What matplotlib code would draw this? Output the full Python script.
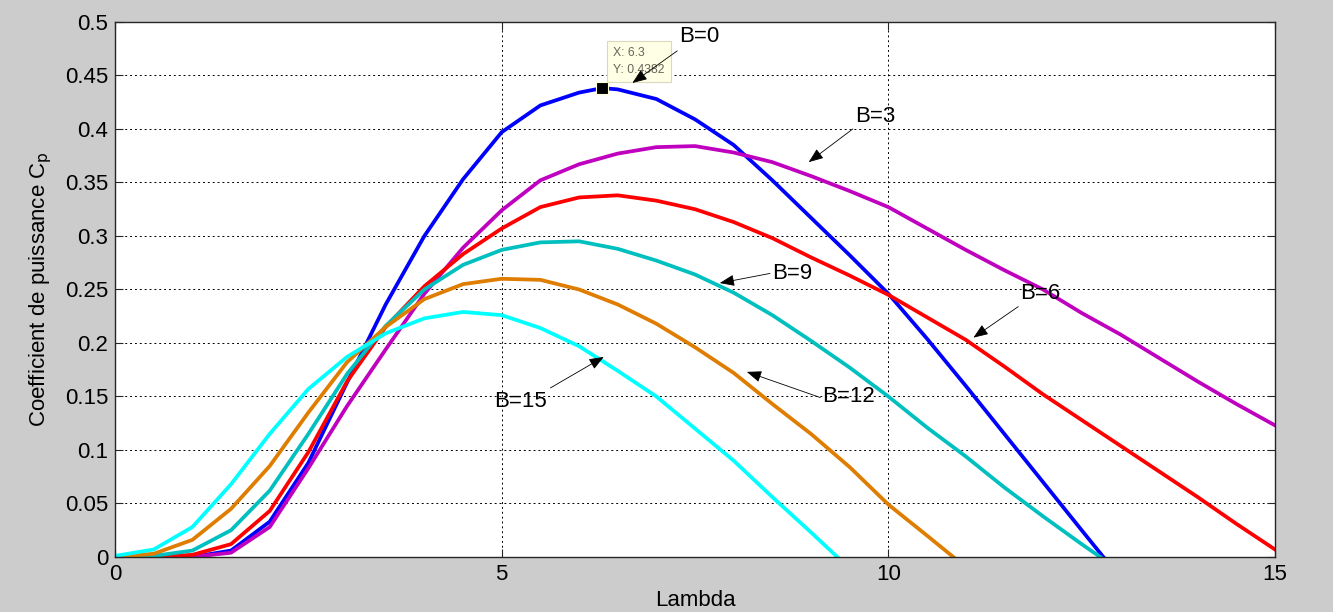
import matplotlib
matplotlib.use("Agg")
import matplotlib.pyplot as plt

plt.rcParams['font.family'] = ['Liberation Sans', 'DejaVu Sans']

# Power coefficient Cp versus tip-speed ratio (Lambda) for several pitch angles B
lam_b0 = [0, 0.5, 1.0, 1.5, 2.0, 2.5, 3.0, 3.5, 4.0, 4.5, 5.0, 5.5, 6.0, 6.3, 6.5, 7.0,
          7.5, 8.0, 8.5, 9.0, 9.5, 10.0, 10.5, 11.0, 11.5, 12.0, 12.5, 12.78]
cp_b0 = [0, 0, 0, 0.006, 0.033, 0.088, 0.163, 0.236, 0.300, 0.353, 0.397, 0.422, 0.434, 0.4382,
         0.437, 0.428, 0.409, 0.385, 0.352, 0.317, 0.282, 0.246, 0.204, 0.160, 0.115, 0.070,
         0.025, 0.0]

lam_b3 = [0, 0.5, 1.0, 1.5, 2.0, 2.5, 3.0, 3.5, 4.0, 4.5, 5.0, 5.5, 6.0, 6.5, 7.0, 7.5,
          8.0, 8.5, 9.0, 9.5, 10.0, 10.5, 11.0, 11.5, 12.0, 12.5, 13.0, 13.5, 14.0, 14.5, 15.0]
cp_b3 = [0, 0, 0, 0.004, 0.028, 0.083, 0.141, 0.194, 0.246, 0.289, 0.324, 0.352, 0.367,
         0.377, 0.383, 0.384, 0.378, 0.369, 0.356, 0.342, 0.327, 0.307, 0.287, 0.268, 0.250,
         0.228, 0.208, 0.186, 0.164, 0.143, 0.123]

lam_b6 = [0, 0.5, 1.0, 1.5, 2.0, 2.5, 3.0, 3.5, 4.0, 4.5, 5.0, 5.5, 6.0, 6.5, 7.0, 7.5,
          8.0, 8.5, 9.0, 9.5, 10.0, 10.5, 11.0, 11.5, 12.0, 12.5, 13.0, 13.5, 14.0, 14.5, 15.0]
cp_b6 = [0, 0, 0.002, 0.012, 0.043, 0.098, 0.164, 0.215, 0.253, 0.283, 0.307, 0.327, 0.336,
         0.338, 0.333, 0.325, 0.313, 0.298, 0.280, 0.263, 0.245, 0.224, 0.203, 0.178, 0.152,
         0.128, 0.104, 0.080, 0.056, 0.031, 0.007]

lam_b9 = [0, 0.5, 1.0, 1.5, 2.0, 2.5, 3.0, 3.5, 4.0, 4.5, 5.0, 5.5, 6.0, 6.5, 7.0, 7.5,
          8.0, 8.5, 9.0, 9.5, 10.0, 10.5, 11.0, 11.5, 12.0, 12.5, 12.74]
cp_b9 = [0, 0.001, 0.006, 0.025, 0.062, 0.115, 0.171, 0.216, 0.250, 0.273, 0.287, 0.294,
         0.295, 0.288, 0.277, 0.264, 0.247, 0.226, 0.202, 0.177, 0.150, 0.121, 0.094, 0.065,
         0.038, 0.012, 0.0]

lam_b12 = [0, 0.5, 1.0, 1.5, 2.0, 2.5, 3.0, 3.5, 4.0, 4.5, 5.0, 5.5, 6.0, 6.5, 7.0, 7.5,
           8.0, 8.5, 9.0, 9.5, 10.0, 10.5, 10.84]
cp_b12 = [0, 0.003, 0.016, 0.045, 0.085, 0.135, 0.182, 0.215, 0.241, 0.255, 0.260, 0.259,
          0.250, 0.236, 0.218, 0.196, 0.172, 0.143, 0.115, 0.084, 0.049, 0.020, 0.0]

lam_b15 = [0, 0.5, 1.0, 1.5, 2.0, 2.5, 3.0, 3.5, 4.0, 4.5, 5.0, 5.5, 6.0, 6.5, 7.0, 7.5,
           8.0, 8.5, 9.0, 9.34]
cp_b15 = [0.001, 0.007, 0.028, 0.068, 0.115, 0.157, 0.187, 0.209, 0.223, 0.229, 0.226, 0.214,
          0.197, 0.174, 0.150, 0.120, 0.090, 0.056, 0.023, 0.0]

series = [
    (lam_b0, cp_b0, (0.0, 0.0, 1.0)),
    (lam_b3, cp_b3, (0.75, 0.0, 0.75)),
    (lam_b6, cp_b6, (1.0, 0.0, 0.0)),
    (lam_b9, cp_b9, (0.0, 0.75, 0.75)),
    (lam_b12, cp_b12, (0.87, 0.49, 0.0)),
    (lam_b15, cp_b15, (0.0, 1.0, 1.0)),
]

# Curve labels: text, text position, arrow tail, arrow head (data units)
labels = [
    ("B=0", (7.56, 0.486), (7.27, 0.473), (6.69, 0.443)),
    ("B=3", (9.83, 0.412), (9.54, 0.400), (8.97, 0.369)),
    ("B=6", (11.96, 0.246), (11.68, 0.234), (11.10, 0.205)),
    ("B=9", (8.75, 0.265), (8.47, 0.265), (7.82, 0.256)),
    ("B=12", (9.48, 0.150), (9.12, 0.149), (8.17, 0.173)),
    ("B=15", (5.24, 0.145), (5.63, 0.158), (6.32, 0.187)),
]

tip_x, tip_y = 6.3, 0.4382

fig = plt.figure(figsize=(13.33, 6.12), dpi=100, facecolor=(0.8, 0.8, 0.8))
ax = fig.add_axes([0.0863, 0.0899, 0.8702, 0.8742])
ax.set_facecolor('white')

for lam, cp, col in series:
    ax.plot(lam, cp, color=col, linewidth=2.7, solid_joinstyle='round')

ax.set_xlim(0, 15)
ax.set_ylim(0, 0.5)
ax.set_xticks([0, 5, 10, 15])
ax.set_xticklabels(['0', '5', '10', '15'])
yt = [0, 0.05, 0.1, 0.15, 0.2, 0.25, 0.3, 0.35, 0.4, 0.45, 0.5]
ax.set_yticks(yt)
ax.set_yticklabels(['0', '0.05', '0.1', '0.15', '0.2', '0.25', '0.3', '0.35', '0.4', '0.45', '0.5'])
ax.tick_params(direction='in', length=6, width=0.8, labelsize=16, top=True, right=True,
               colors=(0.15, 0.15, 0.15), labelcolor='black', pad=5)
ax.grid(True, color='black', linestyle=(0, (2, 3)), linewidth=0.7)
for sp in ax.spines.values():
    sp.set_color((0.15, 0.15, 0.15))
    sp.set_linewidth(1.0)

ax.set_xlabel('Lambda', fontsize=16, labelpad=4)
ax.set_ylabel('Coefficient de puissance C$_\\mathrm{p}$', fontsize=16, labelpad=8)

# Data cursor at the maximum of the B=0 curve
ax.plot([tip_x], [tip_y], marker='s', markersize=8, color='black',
        markeredgecolor=(1.0, 1.0, 0.85), markeredgewidth=0.8, zorder=5)
ax.annotate(f"X: {tip_x}\nY: {tip_y}", xy=(tip_x, tip_y), xytext=(11, 12),
            textcoords='offset pixels', fontsize=8.8, color=(0.4, 0.4, 0.35),
            ha='left', va='bottom', linespacing=1.55,
            bbox=dict(boxstyle='square,pad=0.5', facecolor=(1.0, 1.0, 0.9),
                      edgecolor=(0.85, 0.85, 0.75), linewidth=0.8), zorder=6)

for text, tpos, tail, head in labels:
    ax.text(tpos[0], tpos[1], text, fontsize=16, ha='center', va='center', zorder=7)
    ax.annotate('', xy=head, xytext=tail,
                arrowprops=dict(arrowstyle='-|>,head_length=0.9,head_width=0.35',
                                color='black', linewidth=0.6, shrinkA=0, shrinkB=0),
                zorder=7)

fig.savefig('out.png', dpi=100, facecolor=fig.get_facecolor())
